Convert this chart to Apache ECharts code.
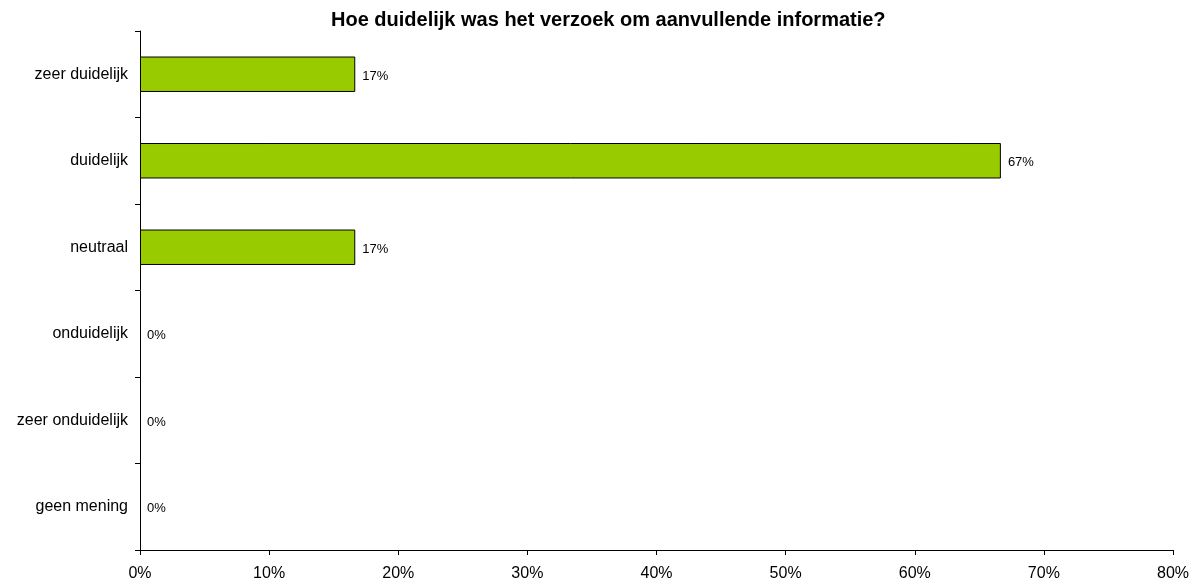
<!DOCTYPE html>
<html><head><meta charset="utf-8">
<script src="https://cdn.jsdelivr.net/npm/echarts@6/dist/echarts.min.js"></script>
<style>html,body{margin:0;padding:0;background:#fff}#c{width:1200px;height:584px}</style>
</head><body><div id="c"></div>
<script>
const title = 'Hoe duidelijk was het verzoek om aanvullende informatie?';
const categories = ['zeer duidelijk', 'duidelijk', 'neutraal', 'onduidelijk', 'zeer onduidelijk', 'geen mening'];
const values = [16.67, 66.67, 16.67, 0, 0, 0];
const xTicks = [0, 10, 20, 30, 40, 50, 60, 70, 80];

const FONT = 'Liberation Sans, Arial, sans-serif';
const chart = echarts.init(document.getElementById('c'), null, {renderer: 'canvas'});
chart.setOption({
  animation: false,
  backgroundColor: '#fff',
  title: {
    text: title, left: 326, top: 5,
    textStyle: {fontFamily: FONT, fontSize: 20, fontWeight: 'bold', color: '#000'}
  },
  grid: {left: 140, right: 27, top: 31, bottom: 34, containLabel: false},
  xAxis: {
    type: 'value', min: xTicks[0], max: xTicks[xTicks.length - 1], interval: 10,
    axisLine: {show: true, lineStyle: {color: '#000', width: 1}},
    axisTick: {show: true, length: 5, lineStyle: {color: '#000'}},
    splitLine: {show: false},
    axisLabel: {formatter: v => v + '%', color: '#000', fontSize: 16, margin: 16, fontFamily: FONT}
  },
  yAxis: {
    type: 'category', data: categories, inverse: true,
    axisLine: {show: true, lineStyle: {color: '#000', width: 1}},
    axisTick: {show: true, length: 5, lineStyle: {color: '#000'}},
    axisLabel: {color: '#000', fontSize: 16, margin: 12, fontFamily: FONT}
  },
  series: [{
    type: 'bar',
    data: values.map(v => v === 0 ? {value: v, itemStyle: {borderWidth: 0}} : v),
    barWidth: '41%',
    itemStyle: {color: '#99CC00', borderColor: '#000', borderWidth: 1},
    label: {show: true, position: 'right', distance: 7, color: '#000', fontSize: 13,
      fontFamily: FONT, offset: [0, 2],
      formatter: p => Math.round(p.value) + '%'}
  }]
});
</script></body></html>
